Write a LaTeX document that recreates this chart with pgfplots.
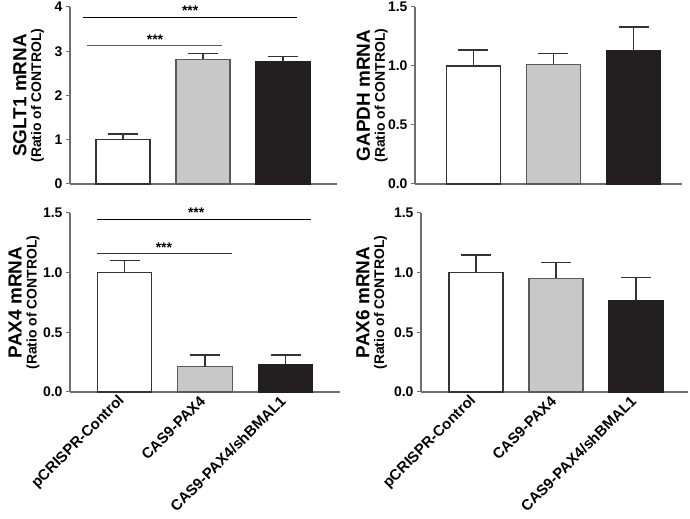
\documentclass[border=0pt]{standalone}
\usepackage{fontspec}
\setmainfont{Liberation Sans}
\usepackage{pgfplots}
\pgfplotsset{compat=1.18}
\definecolor{barblack}{HTML}{231F20}
\definecolor{bargray}{HTML}{C8C8C9}
\definecolor{axgray}{HTML}{6E6E6E}
\definecolor{edgedark}{HTML}{333333}
\definecolor{edgegray}{HTML}{5A5A5A}
\pgfplotsset{
  panel/.style={
    scale only axis,
    ybar, bar width=0.675, bar shift=0pt,
    ymin=0,
    axis lines*=left,
    axis line style={draw=axgray, line width=1.2pt},
    xtick={0,1,2},
    xtick style={draw=none},
    ytick style={draw=axgray, line width=1pt},
    tick align=outside, major tick length=4bp,
    /pgf/number format/assume math mode=true,
    yticklabel style={font=\bfseries\fontsize{14}{15}\selectfont},
    xticklabel style={rotate=45, anchor=east, font=\bfseries\fontsize{15}{16}\selectfont},
    ylabel style={align=center, rotate=0, anchor=center, font=\fontsize{14}{15}\selectfont},
    clip=false,
    error bars/y dir=plus, error bars/y explicit,
    error bars/error bar style={draw=edgedark, line width=1.2pt},
    error bars/error mark options={draw=edgedark, line width=1.2pt, mark size=15bp, rotate=90},
  },
  decimals/.style={ytick={0,0.5,1.0,1.5}, ymax=1.5,
    yticklabel style={/pgf/number format/.cd, fixed, fixed zerofill, precision=1}},
  barA/.style={fill=white, draw=edgedark, line width=1.2pt},
  barB/.style={fill=bargray, draw=edgegray, line width=1.2pt},
  barC/.style={fill=barblack, draw=barblack, line width=1.2pt},
  sig/.style={sharp plot, no marks, forget plot, line width=1pt},
}
\newcommand{\lab}[1]{{\fontsize{19}{15}\selectfont\bfseries #1}\\{\fontsize{14}{15}\selectfont\bfseries (Ratio of CONTROL)}}
\newcommand{\stars}{\fontsize{14}{14}\selectfont\bfseries ***}
\begin{document}
\begin{tikzpicture}[x=1bp,y=1bp]
\path[use as bounding box] (0,0) rectangle (690,519);

% SGLT1
\begin{axis}[panel, at={(70bp,335bp)}, anchor=south west,
  width=267bp, height=177bp, xmin=-0.6625, xmax=2.675,
  ymax=4, ytick={0,1,2,3,4}, xticklabels={,,},
  ylabel={\lab{SGLT1 mRNA}}, ylabel style={at={(axis description cs:-0.155,0.5)}}]
\addplot[barA] coordinates {(0,1.0) +- (0,0.13)};
\addplot[barB] coordinates {(1,2.82) +- (0,0.13)};
\addplot[barC] coordinates {(2,2.76) +- (0,0.13)};
\addplot[sig, draw=black] coordinates {(-0.5,3.77) (2.175,3.77)};
\addplot[sig, draw=edgegray] coordinates {(-0.45,3.13) (1.24,3.13)};
\node[anchor=base] at (axis cs:0.84,3.80) {\stars};
\node[anchor=base] at (axis cs:0.40,3.16) {\stars};
\end{axis}

% GAPDH
\begin{axis}[panel, decimals, at={(415bp,335bp)}, anchor=south west,
  width=267bp, height=177bp, xmin=-0.73, xmax=2.606,
  xticklabels={,,},
  ylabel={\lab{GAPDH mRNA}}, ylabel style={at={(axis description cs:-0.16,0.5)}}]
\addplot[barA] coordinates {(0,1.0) +- (0,0.135)};
\addplot[barB] coordinates {(1,1.014) +- (0,0.093)};
\addplot[barC] coordinates {(2,1.13) +- (0,0.20)};
\end{axis}

% PAX4
\begin{axis}[panel, decimals, at={(70bp,127bp)}, anchor=south west,
  width=270bp, height=179bp, xmin=-0.677, xmax=2.677,
  xticklabels={pCRISPR-Control,CAS9-PAX4,CAS9-PAX4/shBMAL1},
  ylabel={\lab{PAX4 mRNA}}, ylabel style={at={(axis description cs:-0.17,0.5)}}]
\addplot[barA] coordinates {(0,1.0) +- (0,0.10)};
\addplot[barB] coordinates {(1,0.212) +- (0,0.098)};
\addplot[barC] coordinates {(2,0.226) +- (0,0.084)};
\addplot[sig, draw=black] coordinates {(-0.34,1.447) (2.32,1.447)};
\addplot[sig, draw=edgedark] coordinates {(-0.34,1.157) (1.34,1.157)};
\node[anchor=base] at (axis cs:0.89,1.46) {\stars};
\node[anchor=base] at (axis cs:0.49,1.17) {\stars};
\end{axis}

% PAX6
\begin{axis}[panel, decimals, at={(421bp,127bp)}, anchor=south west,
  width=267bp, height=179bp, xmin=-0.6875, xmax=2.65,
  xticklabels={pCRISPR-Control,CAS9-PAX4,CAS9-PAX4/shBMAL1},
  ylabel={\lab{PAX6 mRNA}}, ylabel style={at={(axis description cs:-0.185,0.5)}}]
\addplot[barA] coordinates {(0,1.0) +- (0,0.148)};
\addplot[barB] coordinates {(1,0.953) +- (0,0.134)};
\addplot[barC] coordinates {(2,0.765) +- (0,0.193)};
\end{axis}
\end{tikzpicture}
\end{document}
